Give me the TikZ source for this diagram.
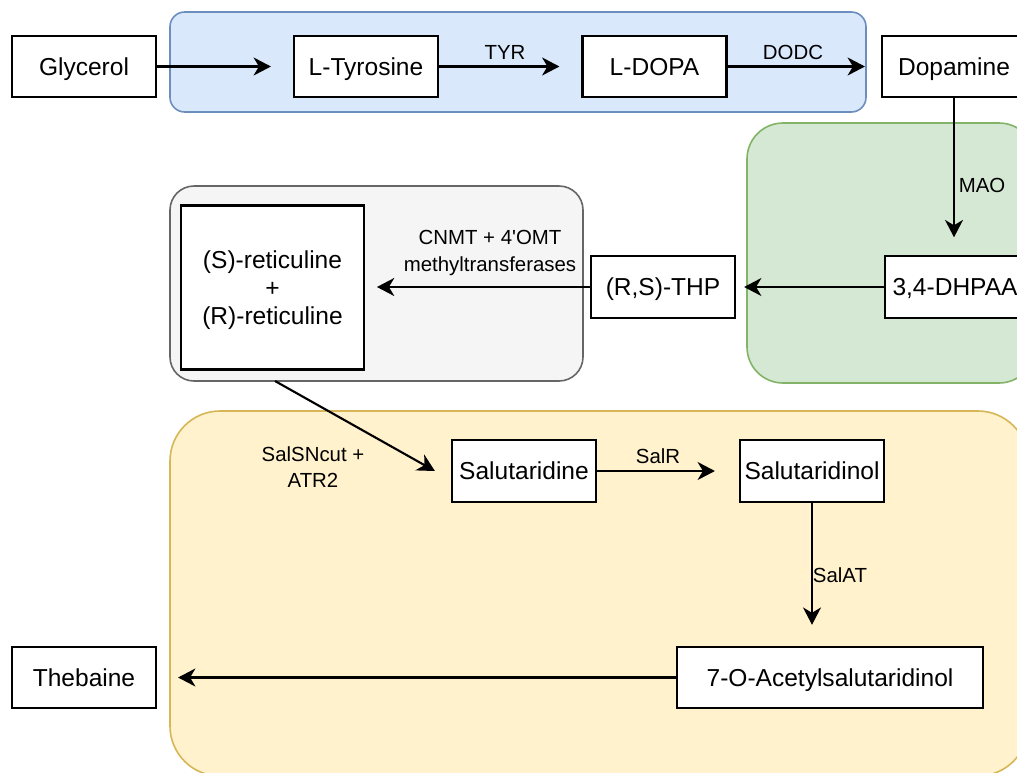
\documentclass[tikz,border=0pt]{standalone}
\usepackage{fontspec}
\setmainfont{Liberation Sans}
\usetikzlibrary{arrows.meta,calc}
\definecolor{blueF}{HTML}{DAE8FC}\definecolor{blueD}{HTML}{6C8EBF}
\definecolor{greenF}{HTML}{D5E8D4}\definecolor{greenD}{HTML}{82B366}
\definecolor{grayF}{HTML}{F5F5F5}\definecolor{grayD}{HTML}{666666}
\definecolor{yellowF}{HTML}{FFF2CC}\definecolor{yellowD}{HTML}{D6B656}
\begin{document}
\begin{tikzpicture}[x=0.75pt,y=-0.75pt,
  compound/.style={draw=black, fill=white, line width=1.6pt, inner sep=0pt,
    minimum width=108pt, minimum height=46pt, text height=13.2pt, text depth=0pt,
    font=\fontsize{18.4}{21.5}\selectfont},
  enzyme/.style={font=\fontsize{15.3}{20}\selectfont, align=center, inner sep=0pt},
  flow/.style={line width=1.6pt, -{Stealth[length=13pt,width=13.5pt,inset=4pt]}},
  group/.style={line width=1.2pt, rounded corners=#1}]
\useasboundingbox (0,0) rectangle (1017,772);
\clip (0,0) rectangle (1017,772);

% compartments
\draw[group=11pt, fill=blueF, draw=blueD] (170,12) rectangle (866,112);
\draw[group=27pt, fill=greenF, draw=greenD] (747,123) rectangle (1035,383);
\draw[group=18pt, fill=grayF, draw=grayD] (170,186) rectangle (583,381);
\draw[group=37.5pt, fill=yellowF, draw=yellowD] (170,411) rectangle (1028,776);

% metabolites
\node[compound] (gly) at (84,66.5) {Glycerol};
\node[compound] (tyr) at (366,66.5) {L-Tyrosine};
\node[compound] (dopa) at (654.5,66.5) {L-DOPA};
\node[compound] (dopamine) at (954,66.5) {Dopamine};
\node[compound, minimum width=105pt] (dhpaa) at (955,287) {3,4-DHPAA};
\node[compound] (thp) at (663,287) {(R,S)-THP};
\node[compound, minimum width=137pt, minimum height=123pt, text height=60pt, text depth=4pt,
  align=center, font=\fontsize{18.4}{21}\selectfont] (ret) at (272.5,287.5)
  {(S)-reticuline\\+\\(R)-reticuline};
\node[compound] (salut) at (524,471) {Salutaridine};
\node[compound] (salol) at (812,471) {Salutaridinol};
\node[compound, minimum width=229.5pt] (acetyl) at (830,677.5) {7-O-Acetylsalutaridinol};
\node[compound] (theb) at (84,677.5) {Thebaine};
\coordinate (retout) at (275,381);

% reactions
\draw[flow, shorten >=16.5pt] (gly) -- (tyr);
\draw[flow, shorten >=16.5pt] (tyr) -- (dopa);
\draw[flow, shorten >=12pt] (dopa) -- (dopamine);
\draw[flow, shorten >=13.5pt] (dopamine.south) -- (dopamine.south |- dhpaa.north);
\draw[flow, shorten >=6pt] (dhpaa) -- (thp);
\draw[flow, shorten >=9pt] (thp) -- (ret.east |- thp.west);
\draw[flow] (retout) -- ($(salut.west)+(-16,0)$);
\draw[flow, shorten >=18pt] (salut) -- (salol);
\draw[flow, shorten >=15.75pt] (salol.south) -- (salol.south |- acetyl.north);
\draw[flow, shorten >=15.75pt] (acetyl) -- (theb);

% enzymes
\node[enzyme] (tyrlab) at (505,52) {TYR};
\node[enzyme] (dodclab) at (793,52) {DODC};
\node[enzyme] (maolab) at (982,185) {MAO};
\node[enzyme] (mtlab) at (490,253) {CNMT + 4\textquotesingle OMT\\methyltransferases};
\node[enzyme] (salsnlab) at (313,467) {SalSNcut +\\ATR2};
\node[enzyme] (salrlab) at (658,456) {SalR};
\node[enzyme] (salatlab) at (840,575) {SalAT};
\end{tikzpicture}
\end{document}
